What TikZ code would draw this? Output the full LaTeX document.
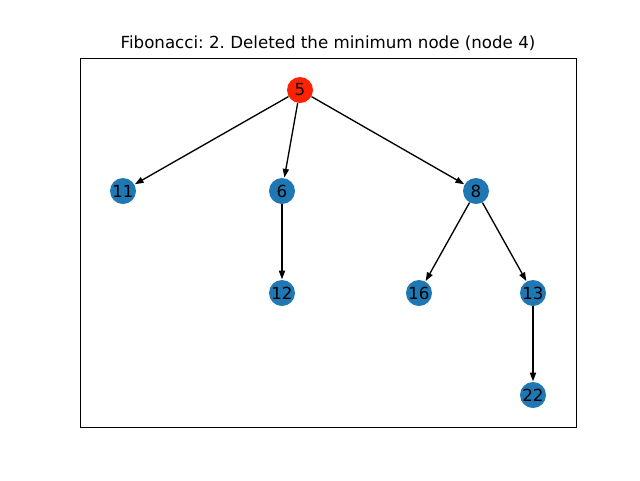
\documentclass[tikz,border=0pt]{standalone}
\usepackage{fontspec}
\setmainfont{DejaVu Sans}
\usetikzlibrary{arrows.meta}
\definecolor{nxblue}{HTML}{1F77B4}
\definecolor{nxred}{HTML}{FF2200}
\frenchspacing
\begin{document}
\begin{tikzpicture}[x=0.75pt,y=-0.75pt,
  vert/.style={circle,fill=nxblue,minimum size=19.5pt,inner sep=0pt,font=\fontsize{12.5}{14}\selectfont},
  rootv/.style={vert,fill=nxred},
  edge/.style={-{Triangle[length=6.5pt,width=4.6pt]},line width=1.0pt,shorten >=0.3pt}]
\useasboundingbox (0,0) rectangle (640,480);
\node[font=\fontsize{12.5}{15}\selectfont] (title) at (328,43) {Fibonacci: 2. Deleted the minimum node (node 4)};
\draw[line width=0.7pt] (80,58) rectangle (576,427);
\node[rootv] (n5) at (300,90) {5};
\node[vert] (n11) at (123,191) {11};
\node[vert] (n6) at (282,191) {6};
\node[vert] (n8) at (476,191) {8};
\node[vert] (n12) at (282,293) {12};
\node[vert] (n16) at (419,293) {16};
\node[vert] (n13) at (533,293) {13};
\node[vert] (n22) at (533,395) {22};
\draw[edge] (n5) -- (n11);
\draw[edge] (n5) -- (n6);
\draw[edge] (n5) -- (n8);
\draw[edge] (n6) -- (n12);
\draw[edge] (n8) -- (n16);
\draw[edge] (n8) -- (n13);
\draw[edge] (n13) -- (n22);
\end{tikzpicture}
\end{document}
